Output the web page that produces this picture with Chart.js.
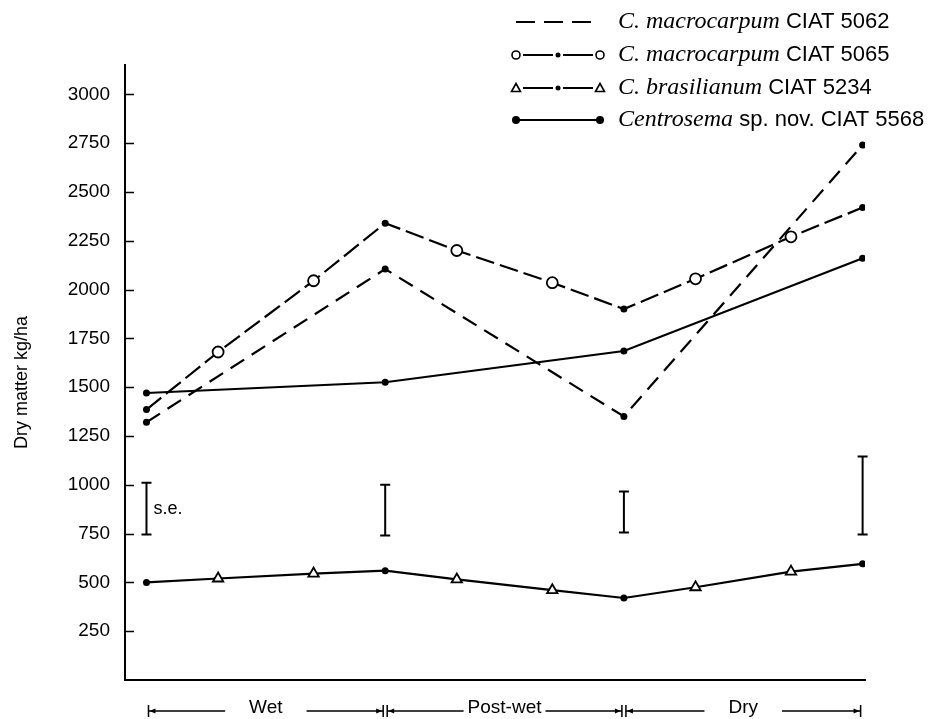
<!DOCTYPE html>
<html>
<head>
<meta charset="utf-8">
<script src="https://cdn.jsdelivr.net/npm/chart.js@4/dist/chart.umd.min.js"></script>
<style>
body { margin: 0; background: #fff; }
canvas { display: block; }
</style>
</head>
<body>
<canvas id="dmChart" width="944" height="719"></canvas>
<script>
// sampling times (weeks from start of the wet season)
const sampleTimes = [0, 3, 7, 10, 13, 17, 20, 23, 27, 30];
const periodTimes = [0, 10, 20, 30];
const periodNames = ['Wet', 'Post-wet', 'Dry'];

// dry matter, kg/ha
const ciat5062 = [1320, 2105, 1350, 2740];          // at periodTimes
const ciat5065 = [1385, 1680, 2045, 2340, 2200, 2035, 1900, 2055, 2270, 2420];
const ciat5234 = [500, 520, 545, 560, 515, 460, 420, 475, 555, 595];
const ciat5568 = [1470, 1525, 1685, 2160];          // at periodTimes

// standard error bars at each period boundary
const seLow = [745, 740, 755, 745];
const seHigh = [1010, 1000, 965, 1145];

const yTicks = [250, 500, 750, 1000, 1250, 1500, 1750, 2000, 2250, 2500, 2750, 3000];

const legendItems = [
  { italic: 'C. macrocarpum', rest: ' CIAT 5062', mark: 'dash' },
  { italic: 'C. macrocarpum', rest: ' CIAT 5065', mark: 'circle' },
  { italic: 'C. brasilianum', rest: ' CIAT 5234', mark: 'triangle' },
  { italic: 'Centrosema', rest: ' sp. nov. CIAT 5568', mark: 'dot' }
];

const SANS = '"Liberation Sans", Arial, sans-serif';
const SERIF = '"Liberation Serif", "Times New Roman", serif';

const isEdge = t => periodTimes.includes(t);
const pts = (xs, ys) => xs.map((x, i) => ({ x: x, y: ys[i] }));

function dotsOnly() {
  return { pointStyle: 'circle', pointRadius: 3.5, pointBackgroundColor: '#000', pointBorderWidth: 0 };
}

Chart.defaults.font.family = SANS;
Chart.defaults.color = '#000';

// extra drawing: inside tick marks, s.e. bars, season brackets, axis title, legend
const extras = {
  id: 'extras',
  afterDraw(chart) {
    const ctx = chart.ctx;
    const xs = chart.scales.x, ys = chart.scales.y;
    const area = chart.chartArea;
    ctx.save();
    ctx.strokeStyle = '#000';
    ctx.fillStyle = '#000';

    // tick marks pointing into the plot
    ctx.lineWidth = 1.6;
    ctx.beginPath();
    yTicks.forEach(v => {
      const py = Math.round(ys.getPixelForValue(v)) + 0.5;
      ctx.moveTo(area.left, py);
      ctx.lineTo(area.left + 9, py);
    });
    ctx.stroke();

    // s.e. bars
    ctx.lineWidth = 2;
    periodTimes.forEach((t, i) => {
      const px = xs.getPixelForValue(t);
      const top = ys.getPixelForValue(seHigh[i]);
      const bot = ys.getPixelForValue(seLow[i]);
      ctx.beginPath();
      ctx.moveTo(px, top); ctx.lineTo(px, bot);
      ctx.moveTo(px - 5, top); ctx.lineTo(px + 5, top);
      ctx.moveTo(px - 5, bot); ctx.lineTo(px + 5, bot);
      ctx.stroke();
    });
    const p0 = xs.getPixelForValue(periodTimes[0]);
    ctx.font = '18px ' + SANS;
    ctx.textAlign = 'left';
    ctx.textBaseline = 'middle';
    ctx.fillText('s.e.', p0 + 7, (ys.getPixelForValue(seHigh[0]) + ys.getPixelForValue(seLow[0])) / 2);

    // season brackets under the axis
    const by = 711;
    ctx.font = '19px ' + SANS;
    ctx.textAlign = 'center';
    ctx.lineWidth = 1.5;
    periodNames.forEach((name, i) => {
      const a = xs.getPixelForValue(periodTimes[i]);
      const b = xs.getPixelForValue(periodTimes[i + 1]);
      const c = (a + b) / 2;
      const gap = name === 'Post-wet' ? 4 : 24;
      const half = ctx.measureText(name).width / 2 + gap;
      ctx.fillText(name, c, by - 3);
      ctx.beginPath();
      ctx.moveTo(a + 2, by); ctx.lineTo(c - half, by);
      ctx.moveTo(c + half, by); ctx.lineTo(b - 2, by);
      ctx.moveTo(a + 2, by - 6); ctx.lineTo(a + 2, by + 6);
      ctx.moveTo(b - 2, by - 6); ctx.lineTo(b - 2, by + 6);
      ctx.stroke();
      // small arrow heads
      ctx.beginPath();
      ctx.moveTo(a + 3, by); ctx.lineTo(a + 9, by - 2.5); ctx.lineTo(a + 9, by + 2.5); ctx.closePath();
      ctx.moveTo(b - 3, by); ctx.lineTo(b - 9, by - 2.5); ctx.lineTo(b - 9, by + 2.5); ctx.closePath();
      ctx.fill();
    });

    // y axis title
    ctx.save();
    ctx.translate(22, (area.top + area.bottom) / 2 + 10);
    ctx.rotate(-Math.PI / 2);
    ctx.font = '18px ' + SANS;
    ctx.textAlign = 'center';
    ctx.textBaseline = 'middle';
    ctx.fillText('Dry matter kg/ha', 0, 0);
    ctx.restore();

    // legend
    const rowY = [22, 55, 88, 120];
    const lx0 = 516, lx1 = 600, tx = 618;
    legendItems.forEach((item, i) => {
      const y = rowY[i];
      ctx.lineWidth = 2;
      ctx.setLineDash([]);
      if (item.mark === 'dash') {
        ctx.setLineDash([19, 9]);
        ctx.beginPath(); ctx.moveTo(lx0, y); ctx.lineTo(lx1, y); ctx.stroke();
        ctx.setLineDash([]);
      } else if (item.mark === 'dot') {
        ctx.beginPath(); ctx.moveTo(lx0, y); ctx.lineTo(lx1, y); ctx.stroke();
        [lx0, lx1].forEach(x => { ctx.beginPath(); ctx.arc(x, y, 4, 0, Math.PI * 2); ctx.fill(); });
      } else {
        const m = (lx0 + lx1) / 2;
        ctx.beginPath();
        ctx.moveTo(lx0 + 7, y); ctx.lineTo(m - 5, y);
        ctx.moveTo(m + 5, y); ctx.lineTo(lx1 - 7, y);
        ctx.stroke();
        ctx.beginPath(); ctx.arc(m, y, 2.5, 0, Math.PI * 2); ctx.fill();
        ctx.lineWidth = 1.6;
        [lx0, lx1].forEach(x => {
          ctx.beginPath();
          if (item.mark === 'circle') {
            ctx.arc(x, y, 4, 0, Math.PI * 2);
          } else {
            ctx.moveTo(x, y - 4.5); ctx.lineTo(x + 4.5, y + 3.5); ctx.lineTo(x - 4.5, y + 3.5); ctx.closePath();
          }
          ctx.stroke();
        });
      }
      ctx.textAlign = 'left';
      ctx.textBaseline = 'middle';
      ctx.font = 'italic 24px ' + SERIF;
      ctx.fillText(item.italic, tx, y);
      const w = ctx.measureText(item.italic).width;
      ctx.font = '22px ' + SANS;
      ctx.fillText(item.rest, tx + w, y);
    });

    ctx.restore();
  }
};

new Chart(document.getElementById('dmChart').getContext('2d'), {
  type: 'line',
  data: {
    datasets: [
      Object.assign({
        label: 'C. macrocarpum CIAT 5062',
        data: pts(periodTimes, ciat5062),
        borderDash: [16, 9]
      }, dotsOnly()),
      {
        label: 'C. macrocarpum CIAT 5065',
        data: pts(sampleTimes, ciat5065),
        borderDash: [19, 6],
        pointStyle: 'circle',
        pointRadius: sampleTimes.map(t => isEdge(t) ? 3.5 : 5.5),
        pointBackgroundColor: sampleTimes.map(t => isEdge(t) ? '#000' : '#fff'),
        pointBorderWidth: sampleTimes.map(t => isEdge(t) ? 0 : 1.8)
      },
      {
        label: 'C. brasilianum CIAT 5234',
        data: pts(sampleTimes, ciat5234),
        pointStyle: sampleTimes.map(t => isEdge(t) ? 'circle' : 'triangle'),
        pointRadius: sampleTimes.map(t => isEdge(t) ? 3.5 : 6),
        pointBackgroundColor: sampleTimes.map(t => isEdge(t) ? '#000' : '#fff'),
        pointBorderWidth: sampleTimes.map(t => isEdge(t) ? 0 : 1.8)
      },
      Object.assign({
        label: 'Centrosema sp. nov. CIAT 5568',
        data: pts(periodTimes, ciat5568)
      }, dotsOnly())
    ]
  },
  options: {
    responsive: false,
    animation: false,
    devicePixelRatio: 1,
    layout: { padding: { top: 65, right: 79, bottom: 0, left: 0 } },
    elements: {
      line: { borderColor: '#000', borderWidth: 2.2, tension: 0, fill: false },
      point: { borderColor: '#000', hoverRadius: 6 }
    },
    scales: {
      x: {
        type: 'linear',
        min: -0.9,
        max: 30.1,
        grid: { display: false, drawTicks: false },
        ticks: { display: false },
        border: { display: true, color: '#000', width: 2 },
        afterFit(scale) { scale.height = 39; }
      },
      y: {
        min: 0,
        max: 3150,
        grid: { display: false, drawTicks: false },
        border: { display: true, color: '#000', width: 2 },
        ticks: {
          padding: 15,
          font: { size: 19 },
          color: '#000',
          callback: v => String(v)
        },
        afterBuildTicks(scale) { scale.ticks = yTicks.map(v => ({ value: v })); },
        afterFit(scale) { scale.width = 125; }
      }
    },
    plugins: {
      legend: { display: false },
      tooltip: { enabled: false }
    }
  },
  plugins: [extras]
});
</script>
</body>
</html>
